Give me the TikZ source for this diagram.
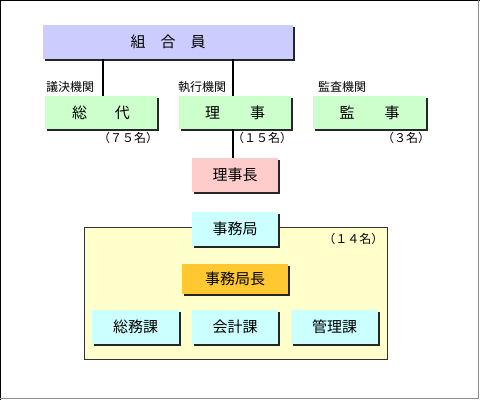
\documentclass[tikz,border=0pt]{standalone}
\usepackage{fontspec}
\newfontfamily\jp{Noto Sans CJK JP}
\usepackage{tikz}
\usetikzlibrary{shadows}
\pgfdeclarelayer{background}
\pgfsetlayers{background,main}
\definecolor{kumiaiblue}{HTML}{CCCCFF}
\definecolor{organgreen}{HTML}{CCFFCC}
\definecolor{chopink}{HTML}{FFCCCC}
\definecolor{jimucyan}{HTML}{CCFFFF}
\definecolor{choorange}{HTML}{FFC830}
\definecolor{officeyellow}{HTML}{FFFFCC}
\tikzset{
  orgbox/.style={inner sep=0pt,minimum height=33pt,font=\jp\fontsize{15}{18}\selectfont,
    drop shadow={shadow xshift=1.6pt,shadow yshift=-1.6pt,fill=black!85,opacity=1}},
  lbl/.style={inner sep=0pt,font=\jp\fontsize{12}{14}\selectfont},
  link/.style={line width=2pt,black}
}
\begin{document}
\begin{tikzpicture}[x=1pt,y=-1pt]
\useasboundingbox (0,0) rectangle (480,400);
\draw[black,line width=1.2pt] (0.6,400) -- (0.6,0.6) -- (480,0.6);
\draw[black!45,line width=1pt] (478.5,0) -- (478.5,398.5) -- (0,398.5);
%top
\node[orgbox,fill=kumiaiblue,minimum width=250pt,minimum height=34pt] (kumiai) at (168,42) {組\hspace{15pt}合\hspace{15pt}員};
%organs
\node[orgbox,fill=organgreen,minimum width=112pt] (soudai) at (101,112.5) {総\hspace{28pt}代};
\node[orgbox,fill=organgreen,minimum width=112pt] (riji) at (235,112.5) {理\hspace{30pt}事};
\node[orgbox,fill=organgreen,minimum width=113pt] (kanji) at (369.5,112.5) {監\hspace{30pt}事};
\node[lbl,anchor=south west] (giketsu) at ([xshift=1pt,yshift=3pt]soudai.north west) {議決機関};
\node[lbl,anchor=south west] (shikko) at ([xshift=-1pt,yshift=3pt]riji.north west) {執行機関};
\node[lbl,anchor=south west] (kansa) at ([xshift=5pt,yshift=3pt]kanji.north west) {監査機関};
\node[lbl,anchor=north east] (soudainum) at ([xshift=1pt,yshift=-3pt]soudai.south east) {（７５名）};
\node[lbl,anchor=north east] (rijinum) at ([xshift=1pt,yshift=-3pt]riji.south east) {（１５名）};
\node[lbl,anchor=north east] (kanjinum) at ([xshift=4pt,yshift=-3pt]kanji.south east) {（３名）};
%chairman
\node[orgbox,fill=chopink,minimum width=86pt,minimum height=34pt] (rijicho) at (235,175) {理事長};
\draw[link] (kumiai.south -| 103,0) -- (soudai.north -| 103,0);
\draw[link] (kumiai.south -| 233,0) -- (riji.north -| 233,0);
\draw[link] (riji.south -| 233,0) -- (rijicho.north -| 233,0);
%office
\begin{pgfonlayer}{background}
\node[draw=black!80,line width=1pt,fill=officeyellow,minimum width=303pt,minimum height=132pt,inner sep=0pt] (office) at (235.5,293) {};
\end{pgfonlayer}
\node[lbl,anchor=north east] (officenum) at ([xshift=-4pt,yshift=-7pt]office.north east) {（１４名）};
\node[orgbox,fill=jimucyan,minimum width=86pt,minimum height=34pt] (jimukyoku) at (235,229) {事務局};
\node[orgbox,fill=choorange,minimum width=106pt,minimum height=30pt] (jimucho) at (235,279) {事務局長};
\node[orgbox,fill=jimucyan,minimum width=87pt,minimum height=34pt] (soumu) at (135.5,327) {総務課};
\node[orgbox,fill=jimucyan,minimum width=86pt,minimum height=34pt] (kaikei) at (235,327) {会計課};
\node[orgbox,fill=jimucyan,minimum width=87pt,minimum height=34pt] (kanri) at (334.5,327) {管理課};
\end{tikzpicture}
\end{document}
